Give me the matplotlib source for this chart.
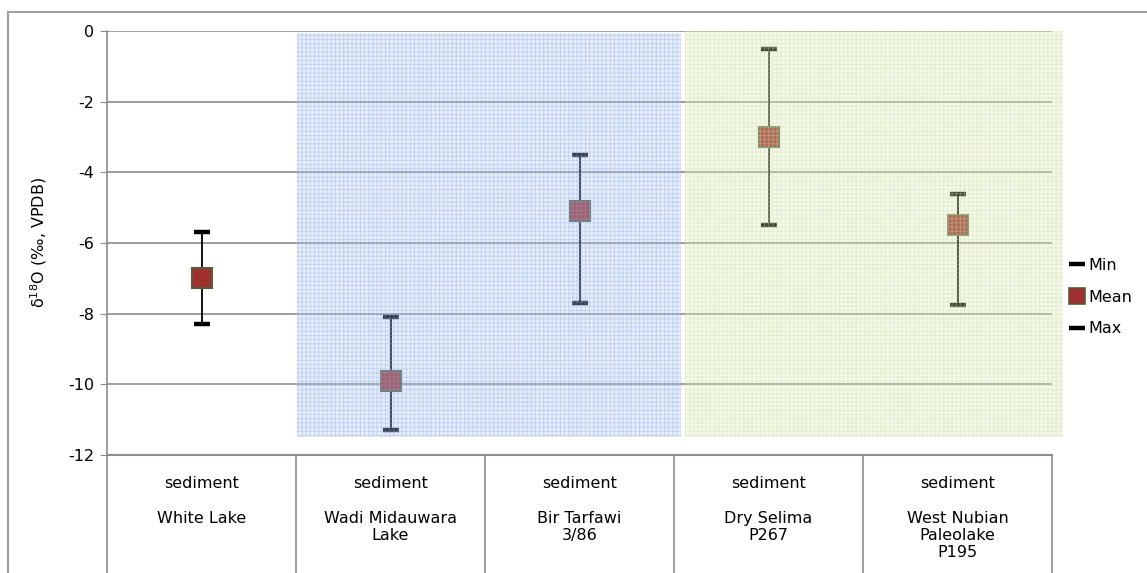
#Delta 18O ranges in sediments of eastern Sahara lakes
import matplotlib
matplotlib.use('Agg')
import matplotlib.pyplot as plt
import matplotlib.ticker as mtick
import matplotlib.transforms as mtrans
from matplotlib.patches import Rectangle
from matplotlib.lines import Line2D
import numpy as np

material = ['sediment', 'sediment', 'sediment', 'sediment', 'sediment']
sites = ['White Lake', 'Wadi Midauwara\nLake', 'Bir Tarfawi\n3/86',
         'Dry Selima\nP267', 'West Nubian\nPaleolake\nP195']
d18o_min = [-8.3, -11.3, -7.7, -5.5, -7.75]
d18o_mean = [-7.0, -9.9, -5.1, -3.0, -5.5]
d18o_max = [-5.7, -8.1, -3.5, -0.5, -4.6]
yticks = [0, -2, -4, -6, -8, -10, -12]

plt.rcParams['font.family'] = 'DejaVu Sans'
plt.rcParams['axes.unicode_minus'] = False
plt.rcParams['hatch.linewidth'] = 0.7

W, H = 1147., 573.
fig = plt.figure(figsize=(W/100, H/100), dpi=100)
ax = fig.add_axes([107/W, 1-455/H, (1052-107)/W, (455-31)/H])

x = np.arange(len(sites))
ax.set_xlim(-0.5, len(sites)-0.5)
ax.set_ylim(-12, 0)
ax.set_yticks(yticks)
ax.yaxis.set_major_formatter(mtick.FuncFormatter(lambda v, p: '%d' % v))
ax.set_xticks([])

for s in ['top', 'right']:
    ax.spines[s].set_visible(False)
ax.spines['left'].set_color('#8c8c8c')
ax.spines['bottom'].set_color('#8c8c8c')
ax.spines['left'].set_linewidth(1.2)
ax.spines['bottom'].set_linewidth(1.5)
ax.tick_params(axis='y', length=5, color='#8c8c8c', labelsize=11.5, pad=4)
ax.grid(True, axis='y', color='#8c8c8c', linewidth=1.2, zorder=0)
ax.set_axisbelow(True)

ax.set_ylabel('δ$^{18}$O (‰, VPDB)', fontsize=11.5, labelpad=14)

# error bars and means
ax.vlines(x, d18o_min, d18o_max, color='black', lw=1.3, zorder=3)
ax.plot(x, d18o_min, ls='none', marker='_', ms=12, mew=3.2, color='black', zorder=4)
ax.plot(x, d18o_max, ls='none', marker='_', ms=12, mew=3.2, color='black', zorder=4)
ax.plot(x, d18o_mean, ls='none', marker='s', ms=14, mfc='#a0302e', mec='#5b5a3e',
        mew=1.5, zorder=5)

# shaded site groups (drawn on top, semi-transparent)
blue = Rectangle((0.505, -11.5), 2.03, 11.45, facecolor=(0.70, 0.79, 0.93, 0.30),
                 edgecolor=(0.52, 0.66, 0.90, 0.40), hatch='++++', lw=0,
                 zorder=6, clip_on=False)
green = Rectangle((2.558, -11.5), 2.0, 11.5, facecolor=(0.88, 0.93, 0.76, 0.30),
                  edgecolor=(0.78, 0.86, 0.60, 0.40), hatch='++++', lw=0,
                  zorder=6, clip_on=False)
ax.add_patch(blue)
ax.add_patch(green)

# category table below the axis
trans = mtrans.blended_transform_factory(ax.transData, ax.transAxes)
ybot = -(573-455)/(455-31)
for b in np.arange(len(sites)+1) - 0.5:
    ax.add_line(Line2D([b, b], [0, ybot], transform=trans, color='#8c8c8c',
                       lw=1.2, clip_on=False))
for i in range(len(sites)):
    ax.text(x[i], -(483-455)/(455-31), material[i], transform=trans,
            ha='center', va='center', fontsize=11.5)
    ax.text(x[i], -(511-455)/(455-31), sites[i], transform=trans,
            ha='center', va='top', fontsize=11.5, linespacing=1.15)

# legend
h_min = Line2D([], [], ls='none', marker='_', ms=12, mew=3.2, color='black')
h_mean = Line2D([], [], ls='none', marker='s', ms=11, mfc='#a0302e', mec='#5b5a3e', mew=1.2)
h_max = Line2D([], [], ls='none', marker='_', ms=12, mew=3.2, color='black')
fig.legend([h_min, h_mean, h_max], ['Min', 'Mean', 'Max'], loc='center left',
           bbox_to_anchor=(1056/W, 1-297/H), frameon=False, fontsize=11.5,
           handlelength=0.8, handletextpad=0.3, labelspacing=1.05)

# outer chart border
fig.add_artist(Line2D([8/W, 8/W], [0, 1-12/H], color='#a0a0a0', lw=1.5))
fig.add_artist(Line2D([8/W, 1], [1-12/H, 1-12/H], color='#a0a0a0', lw=1.5))

plt.savefig('out.png', dpi=100)
